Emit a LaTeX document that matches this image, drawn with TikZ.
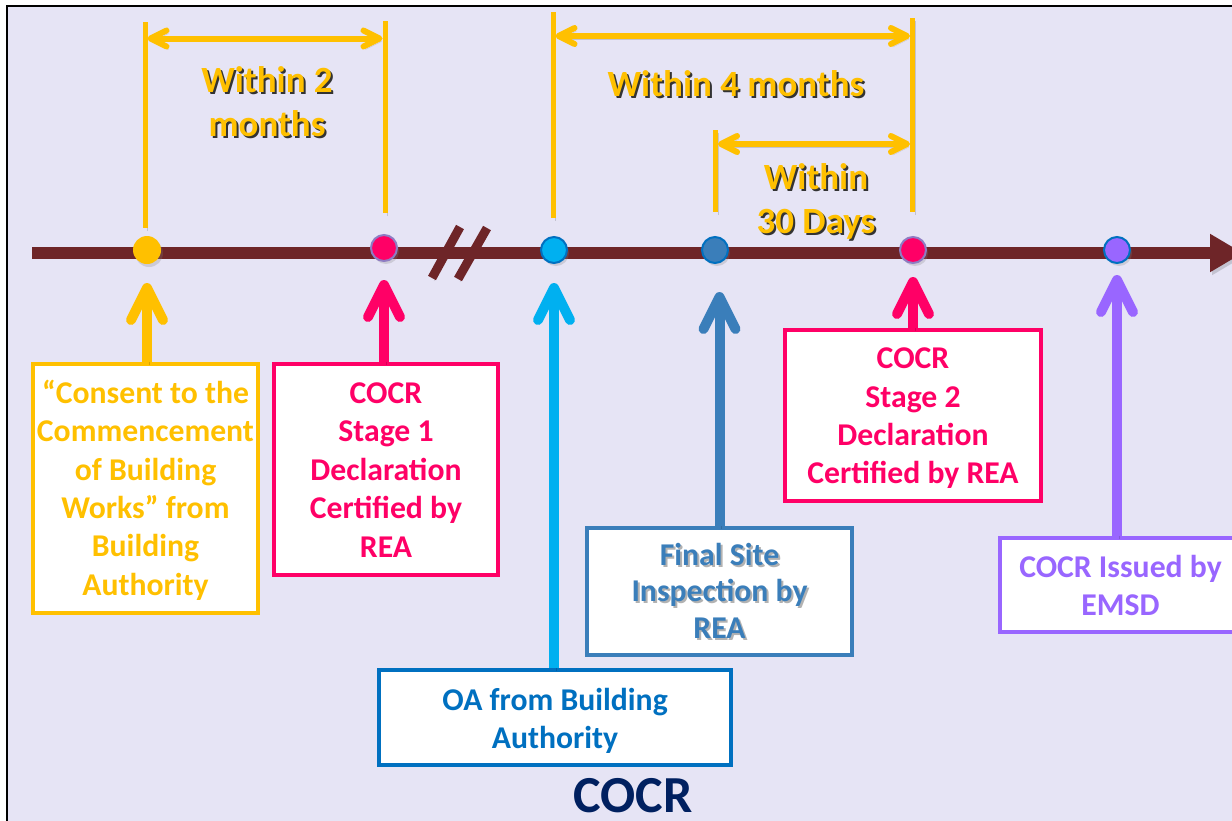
\documentclass[tikz,border=0pt]{standalone}
\usepackage{fontspec}
\setmainfont{Carlito}
\usetikzlibrary{arrows.meta,shadows}
\definecolor{bg}{RGB}{230,228,245}
\definecolor{cyel}{RGB}{255,192,0}
\definecolor{cpink}{RGB}{255,0,102}
\definecolor{clblue}{RGB}{0,176,240}
\definecolor{cblue}{RGB}{0,112,192}
\definecolor{csteel}{RGB}{58,126,186}
\definecolor{cpurp}{RGB}{153,102,255}
\definecolor{cmaroon}{RGB}{110,37,40}
\definecolor{cnavy}{RGB}{0,32,96}
\definecolor{cdotline}{RGB}{142,124,195}
\newcommand{\shtxt}[2][black!80]{\leavevmode\rlap{\kern2pt\raisebox{-2pt}{\textcolor{#1}{#2}}}#2}
\newcommand{\fl}[1]{\rule{0pt}{#1pt}}
\begin{document}
\begin{tikzpicture}[x=1pt,y=-1pt,
  box/.style={draw,fill=white,line width=4pt,inner sep=0pt,align=center,font=\fontsize{31.7}{38.4}\selectfont\bfseries},
  dot/.style={circle,inner sep=0pt,minimum size=26pt,line width=2pt,drop shadow={opacity=.25,shadow xshift=2pt,shadow yshift=-3pt}},
  shd/.style={preaction={draw=black,draw opacity=.15,transform canvas={shift={(2,3)}}}},
  upar/.style={line width=10pt,-{Straight Barb[round,length=32pt,width=32pt]}},
  dimline/.style={cyel,line width=5pt},
  dimar/.style={cyel,line width=6pt,{Straight Barb[round,length=16pt,width=16pt]}-{Straight Barb[round,length=16pt,width=16pt]}},
  lbl/.style={cyel,align=center,font=\fontsize{37}{44}\selectfont\bfseries},
]
\useasboundingbox (0,0) rectangle (1232,820);
\fill[white] (0,0) rectangle (1232,820);
\draw[fill=bg,line width=2pt] (7,6) rectangle (1250,840);

% timeline
\coordinate (t0) at (32,253);
\coordinate (t1) at (1243,253);
\draw[cmaroon,line width=12pt,-{Triangle[length=33pt,width=36pt]},shd] (t0) -- (t1);
\draw[cmaroon,line width=9pt,shd] (460,227) -- (432,278);
\draw[cmaroon,line width=9pt,shd] (487,228) -- (458,279);

% dots
\node[dot,fill=cyel,minimum size=28pt] (d1) at (147,250) {};
\node[dot,fill=cpink,draw=cdotline] (d2) at (384,248) {};
\node[dot,fill=clblue,draw=cblue] (d3) at (554,250) {};
\node[dot,fill=csteel,draw=cblue] (d4) at (715,250) {};
\node[dot,fill=cpink,draw=cdotline] (d5) at (913,250) {};
\node[dot,fill=cpurp,draw=cblue] (d6) at (1117,250) {};

% boxes
\node[box,draw=cyel,text=cyel,minimum width=225pt,minimum height=249pt] (b1) at (145.5,488.5)
  {\fl{33}“Consent to the\\\strut Commencement\\\strut of Building\\\strut Works” from\\\strut Building\\\strut Authority};
\node[box,draw=cpink,text=cpink,minimum width=224pt,minimum height=211pt] (b2) at (386,469.5)
  {\fl{33}COCR\\\strut Stage 1\\\strut Declaration\\\strut Certified by\\\strut REA};
\node[box,draw=cblue,text=cblue,minimum width=352pt,minimum height=95pt] (b3) at (555,717.5)
  {\fl{35}OA from Building\\\strut Authority};
\node[box,draw=csteel,text=csteel,minimum width=265pt,minimum height=127pt,font=\fontsize{31.7}{36.5}\selectfont\bfseries] (b4) at (719.5,591.5)
  {\fl{31}\shtxt[black!30]{Final Site}\\\strut\shtxt[black!30]{Inspection by}\\\strut\shtxt[black!30]{REA}};
\node[box,draw=cpink,text=cpink,minimum width=256pt,minimum height=171pt] (b5) at (913,415.5)
  {\fl{33}COCR\\\strut Stage 2\\\strut Declaration\\\strut Certified by REA};
\node[box,draw=cpurp,text=cpurp,minimum width=241pt,minimum height=94pt] (b6) at (1120.5,585)
  {\fl{34}COCR Issued by\\\strut EMSD};

% upward arrows
\draw[upar,cyel,shd,shorten >=18pt] (b1.north -| d1) -- (d1);
\draw[upar,cpink,shd,shorten >=18pt] (b2.north -| d2) -- (d2);
\draw[upar,clblue,shd,shorten >=19pt] (b3.north -| d3) -- (d3);
\draw[upar,csteel,shd,shorten >=28pt] (b4.north) -- (b4.north |- d4.south);
\draw[upar,cpink,shd,shorten >=13pt] (b5.north -| d5) -- (d5);
\draw[upar,cpurp,shd,shorten >=11pt] (b6.north -| d6) -- (d6);

% dimension brackets
\coordinate (a1t) at (145,22);   \coordinate (a1b) at (145,228);
\coordinate (a2t) at (385,21);   \coordinate (a2b) at (385,213);
\coordinate (a3t) at (553,12);   \coordinate (a3b) at (553,218);
\coordinate (a4t) at (912.7,18); \coordinate (a4b) at (912.7,212);
\coordinate (a5t) at (715.7,130);\coordinate (a5b) at (715.7,212);
\draw[dimline,shd] (a1t) -- (a1b);
\draw[dimline,shd] (a2t) -- (a2b);
\draw[dimline,shd] (a3t) -- (a3b);
\draw[dimline,shd] (a4t) -- (a4b);
\draw[dimline,shd] (a5t) -- (a5b);
\coordinate (h1a) at (147.5,38.5); \coordinate (h1b) at (382.5,38.5);
\coordinate (h2a) at (555.5,36);   \coordinate (h2b) at (910,36);
\coordinate (h3a) at (718,144);    \coordinate (h3b) at (910,144);
\draw[dimar,shd] (h1a) -- (h1b);
\draw[dimar,shd] (h2a) -- (h2b);
\draw[dimar,shd] (h3a) -- (h3b);

% labels
\node[lbl] (w2) at (267,105.5) {\strut\shtxt{Within 2}\\\strut\shtxt{months}};
\node[lbl,anchor=base] (w4) at (736,96.7) {\shtxt{Within 4 months}};
\node[lbl] (w30) at (816,202.7) {\strut\shtxt{Within}\\\strut\shtxt{30 Days}};
\node[text=cnavy,inner sep=0pt,font=\fontsize{52}{60}\selectfont\bfseries,anchor=base] (title) at (633,812) {COCR};
\end{tikzpicture}
\end{document}
